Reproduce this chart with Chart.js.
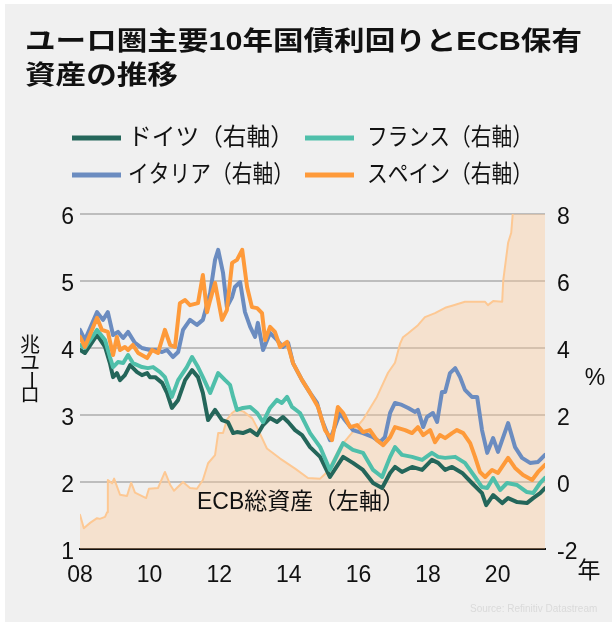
<!DOCTYPE html>
<html><head><meta charset="utf-8">
<script src="https://cdn.jsdelivr.net/npm/chart.js@4.4.1/dist/chart.umd.min.js"></script>
<style>html,body{margin:0;padding:0;background:#fff;}#wrap{width:615px;height:627px;position:relative;}</style>
</head><body><div id="wrap"><canvas id="c" width="615" height="627"></canvas></div>
<script>
// ---- Data (years as decimals) ----
const ecbDates = [2008.00,2008.11,2008.29,2008.49,2008.57,2008.72,2008.78,2008.80,2008.92,2008.98,2009.15,2009.35,2009.47,2009.58,2009.90,2009.98,2010.24,2010.44,2010.59,2010.70,2010.96,2011.16,2011.36,2011.53,2011.68,2011.88,2011.97,2012.11,2012.22,2012.37,2012.50,2012.70,2012.95,2013.10,2013.37,2013.75,2014.18,2014.55,2014.90,2015.10,2015.47,2016.13,2016.53,2016.85,2017.05,2017.20,2017.28,2017.43,2017.71,2017.91,2018.20,2018.49,2018.69,2019.06,2019.64,2019.72,2019.87,2020.13,2020.16,2020.30,2020.39,2020.44,2020.70,2020.99,2021.36];
const ecbAssets = [1.51,1.31,1.39,1.46,1.45,1.48,1.55,2.03,1.98,2.05,1.81,1.79,1.99,1.84,1.76,1.90,1.91,2.15,1.96,1.87,2.00,1.91,1.90,2.03,2.28,2.40,2.73,2.73,2.93,3.03,3.08,3.05,2.95,2.80,2.50,2.35,2.20,2.06,2.05,2.15,2.52,2.93,3.27,3.63,3.78,4.07,4.16,4.22,4.34,4.46,4.52,4.60,4.63,4.69,4.69,4.64,4.70,4.69,5.01,5.57,5.72,6.05,6.60,7.00,7.60];

const deDates = [2008.00,2008.14,2008.49,2008.72,2008.86,2008.95,2009.06,2009.15,2009.29,2009.44,2009.64,2009.78,2009.93,2010.01,2010.16,2010.36,2010.50,2010.64,2010.82,2011.02,2011.22,2011.39,2011.53,2011.68,2011.88,2012.08,2012.25,2012.40,2012.51,2012.68,2012.89,2013.09,2013.26,2013.46,2013.66,2013.83,2013.98,2014.18,2014.38,2014.61,2014.90,2015.18,2015.56,2015.84,2016.13,2016.42,2016.68,2016.91,2017.05,2017.25,2017.54,2017.83,2018.11,2018.29,2018.49,2018.69,2018.98,2019.26,2019.55,2019.67,2019.87,2020.13,2020.30,2020.56,2020.84,2021.02,2021.22,2021.36];
const deYield = [3.94,3.85,4.39,4.03,3.55,3.13,3.25,3.04,3.19,3.49,3.28,3.19,3.25,3.13,3.13,2.96,2.66,2.21,2.45,3.04,3.34,3.13,2.66,1.85,2.15,1.85,1.79,1.46,1.49,1.46,1.55,1.40,1.70,1.91,1.79,1.94,1.79,1.55,1.40,1.04,0.75,0.15,0.75,0.57,0.36,-0.03,-0.18,0.27,0.45,0.30,0.45,0.36,0.66,0.57,0.36,0.45,0.27,-0.03,-0.33,-0.69,-0.39,-0.63,-0.48,-0.60,-0.63,-0.48,-0.33,-0.18];

const frDates = [2008.00,2008.14,2008.49,2008.72,2008.86,2008.95,2009.09,2009.24,2009.38,2009.52,2009.78,2009.95,2010.10,2010.30,2010.44,2010.64,2010.82,2011.07,2011.22,2011.39,2011.53,2011.74,2011.97,2012.17,2012.31,2012.40,2012.51,2012.68,2012.89,2013.09,2013.26,2013.46,2013.66,2013.80,2013.95,2014.09,2014.32,2014.61,2014.90,2015.18,2015.56,2015.84,2016.13,2016.42,2016.68,2016.91,2017.05,2017.25,2017.54,2017.83,2018.11,2018.29,2018.49,2018.78,2019.06,2019.35,2019.55,2019.70,2019.87,2020.07,2020.27,2020.56,2020.84,2021.02,2021.22,2021.36];
const frYield = [4.09,4.00,4.54,4.24,3.73,3.43,3.58,3.55,3.79,3.55,3.43,3.40,3.43,3.28,3.13,2.54,3.04,3.43,3.73,3.43,3.13,2.66,3.25,3.04,2.90,2.54,2.15,2.21,2.24,2.06,1.79,2.21,2.45,2.36,2.54,2.24,2.06,1.46,1.04,0.36,1.16,0.96,0.87,0.36,0.15,0.75,1.04,0.81,0.75,0.66,0.87,0.75,0.72,0.75,0.57,0.15,-0.15,-0.18,0.12,-0.24,-0.03,-0.09,-0.30,-0.33,-0.03,0.12];

const itDates = [2008.00,2008.14,2008.49,2008.66,2008.80,2008.95,2009.09,2009.24,2009.38,2009.58,2009.78,2010.01,2010.16,2010.36,2010.50,2010.67,2010.82,2010.96,2011.16,2011.36,2011.53,2011.74,2011.88,2011.97,2012.11,2012.22,2012.37,2012.45,2012.60,2012.74,2012.89,2013.03,2013.11,2013.26,2013.46,2013.66,2013.83,2013.98,2014.12,2014.38,2014.61,2014.81,2014.95,2015.18,2015.47,2015.61,2015.84,2016.13,2016.42,2016.62,2016.76,2016.91,2017.05,2017.25,2017.43,2017.63,2017.71,2017.86,2017.97,2018.14,2018.26,2018.40,2018.49,2018.63,2018.78,2018.92,2019.06,2019.26,2019.41,2019.55,2019.70,2019.87,2020.01,2020.30,2020.50,2020.70,2020.93,2021.16,2021.36];
const itYield = [4.54,4.24,5.07,4.84,5.07,4.39,4.48,4.30,4.48,4.15,4.00,3.94,3.94,3.88,3.94,3.73,3.88,4.54,4.84,4.69,4.84,5.64,6.63,6.93,6.24,5.22,5.52,5.82,5.97,5.07,4.63,4.33,4.75,3.94,4.45,4.24,4.03,4.15,3.55,3.04,2.66,2.36,1.85,1.25,2.06,1.85,1.55,1.46,1.34,1.19,1.34,2.06,2.36,2.30,2.21,2.09,2.15,1.64,1.94,2.06,1.79,2.69,2.69,3.25,3.40,3.13,2.75,2.54,2.54,1.55,0.87,1.31,0.90,1.76,1.04,0.72,0.57,0.60,0.81];

const esDates = [2008.00,2008.14,2008.49,2008.63,2008.80,2008.95,2009.06,2009.15,2009.29,2009.38,2009.52,2009.67,2009.93,2010.07,2010.24,2010.44,2010.59,2010.73,2010.87,2011.02,2011.16,2011.39,2011.53,2011.65,2011.74,2011.88,2012.08,2012.22,2012.37,2012.51,2012.66,2012.80,2012.94,2013.09,2013.23,2013.32,2013.46,2013.60,2013.75,2013.95,2014.12,2014.38,2014.61,2014.84,2015.04,2015.24,2015.41,2015.56,2015.76,2015.96,2016.13,2016.33,2016.53,2016.71,2016.91,2017.05,2017.34,2017.54,2017.71,2017.86,2018.06,2018.20,2018.34,2018.49,2018.69,2018.83,2019.01,2019.21,2019.35,2019.49,2019.64,2019.84,2020.01,2020.30,2020.50,2020.73,2020.99,2021.16,2021.36];
const esYield = [4.33,4.03,4.90,4.54,4.48,3.79,4.33,3.94,4.03,3.94,4.09,3.85,3.70,3.94,3.85,4.54,4.09,4.03,5.34,5.43,5.28,5.34,6.18,5.07,5.43,5.94,4.84,5.13,6.54,6.63,6.93,5.82,5.22,5.19,5.04,4.24,4.63,4.48,4.03,4.18,3.55,3.04,2.66,2.24,1.55,1.25,2.24,2.06,1.64,1.70,1.49,1.55,1.25,1.10,1.34,1.64,1.55,1.46,1.64,1.40,1.55,1.19,1.40,1.31,1.46,1.55,1.46,1.16,0.75,0.30,0.15,0.36,0.27,0.72,0.42,0.21,0.06,0.30,0.51];

const xTickYears = [2008,2010,2012,2014,2016,2018,2020];
const titleLines = ['ユーロ圏主要10年国債利回りとECB保有','資産の推移'];
const seriesNames = ['ドイツ（右軸）','フランス（右軸）','イタリア（右軸）','スペイン（右軸）'];
const ecbLabel = 'ECB総資産（左軸）';

const COL = {de:'#24665a', fr:'#4fbfaa', it:'#6b8cc0', es:'#fe9a3a', ecbLine:'#fdc893', ecbFill:'rgba(254,200,146,0.36)'};
const FONT = '"Liberation Sans", Arial, "Noto Sans CJK JP", sans-serif';

function pts(d, v){ return d.map((x,i)=>({x:x, y:v[i]})); }

const textPlugin = {
  id:'texts',
  beforeDraw(chart){
    const c = chart.ctx;
    c.save();
    c.fillStyle = '#ffffff'; c.fillRect(0,0,615,627);
    c.fillStyle = '#f0f0f0'; c.fillRect(5,4,607,618);
    c.restore();
  },
  afterDraw(chart){
    const c = chart.ctx;
    c.save();
    c.fillStyle = '#111';
    c.textBaseline = 'middle';
    // title (horizontally stretched)
    c.font = 'bold 26px ' + FONT;
    const w1 = c.measureText(titleLines[0]).width;
    const sx = 557 / w1;
    c.save(); c.translate(25, 43); c.scale(sx,1); c.fillText(titleLines[0],0,0); c.restore();
    c.save(); c.translate(25, 77); c.scale(sx,1); c.fillText(titleLines[1],0,0); c.restore();
    // legend
    const leg = [
      {n:seriesNames[0], col:COL.de, x:72, tx:128, y:138},
      {n:seriesNames[1], col:COL.fr, x:305, tx:367, y:138},
      {n:seriesNames[2], col:COL.it, x:72, tx:128, y:175},
      {n:seriesNames[3], col:COL.es, x:305, tx:367, y:175}
    ];
    c.font = '24px ' + FONT;
    leg.forEach(l=>{
      c.strokeStyle = l.col; c.lineWidth = 5; c.lineCap='butt';
      c.beginPath(); c.moveTo(l.x, l.y); c.lineTo(l.x+49, l.y); c.stroke();
      const w = c.measureText(l.n).width;
      c.save(); c.translate(l.tx, l.y); c.scale(166/w,1); c.fillStyle='#111'; c.fillText(l.n,0,0); c.restore();
    });
    // ECB label
    c.font = '23px ' + FONT;
    const we = c.measureText(ecbLabel).width;
    c.save(); c.translate(197, 503); c.scale(208/we,1); c.fillText(ecbLabel,0,0); c.restore();
    // unit labels
    c.textAlign = 'center';
    c.font = '23px ' + FONT;
    c.fillText('%', 595, 379);
    c.fillText('年', 589, 572);
    c.font = '20px ' + FONT;
    c.fillText('兆', 30, 346);
    c.fillText('ユ', 30, 364);
    c.save(); c.translate(30, 380); c.rotate(Math.PI/2); c.fillText('ー',0,0); c.restore();
    c.fillText('ロ', 30, 396);
    // source
    c.textAlign = 'left';
    c.font = '10px ' + FONT;
    c.fillStyle = '#dadada';
    c.fillText('Source: Refinitiv Datastream', 470, 609);
    c.restore();
  }
};

new Chart(document.getElementById('c'), {
  type:'line',
  data:{ datasets:[
    {label:'ECB', data:pts(ecbDates, ecbAssets), yAxisID:'yL', borderColor:COL.ecbLine, backgroundColor:COL.ecbFill, borderWidth:2, fill:'start', order:5},
    {label:'DE', data:pts(deDates, deYield), yAxisID:'yR', borderColor:COL.de, borderWidth:4, fill:false, order:4},
    {label:'FR', data:pts(frDates, frYield), yAxisID:'yR', borderColor:COL.fr, borderWidth:4, fill:false, order:3},
    {label:'IT', data:pts(itDates, itYield), yAxisID:'yR', borderColor:COL.it, borderWidth:4, fill:false, order:2},
    {label:'ES', data:pts(esDates, esYield), yAxisID:'yR', borderColor:COL.es, borderWidth:4, fill:false, order:1}
  ]},
  options:{
    responsive:false, animation:false, devicePixelRatio:1,
    layout:{padding:{top:214, left:0, right:0, bottom:0}},
    elements:{point:{radius:0}, line:{tension:0, borderJoinStyle:'round', borderCapStyle:'round'}},
    plugins:{legend:{display:false}, tooltip:{enabled:false}},
    scales:{
      x:{type:'linear', min:2008, max:2021.36,
         afterBuildTicks(s){ s.ticks = xTickYears.map(v=>({value:v})); },
         afterFit(s){ s.height = 78; },
         grid:{display:false, drawTicks:false},
         border:{display:true, color:'#111', width:2},
         ticks:{padding:13, color:'#111', font:{family:FONT, size:23}, maxRotation:0, autoSkip:false,
                callback:(v)=>String(v).slice(2)}},
      yL:{position:'left', min:1, max:6,
         afterFit(s){ s.width = 80; },
         grid:{color:'#bdbdbd', lineWidth:2, drawTicks:false},
         border:{display:false},
         ticks:{stepSize:1, padding:6, labelOffset:4, color:'#111', font:{family:FONT, size:23}}},
      yR:{position:'right', min:-2, max:8,
         afterFit(s){ s.width = 70; },
         grid:{display:false, drawTicks:false},
         border:{display:false},
         ticks:{stepSize:2, padding:12, labelOffset:4, color:'#111', font:{family:FONT, size:23}}}
    }
  },
  plugins:[textPlugin]
});
</script></body></html>
